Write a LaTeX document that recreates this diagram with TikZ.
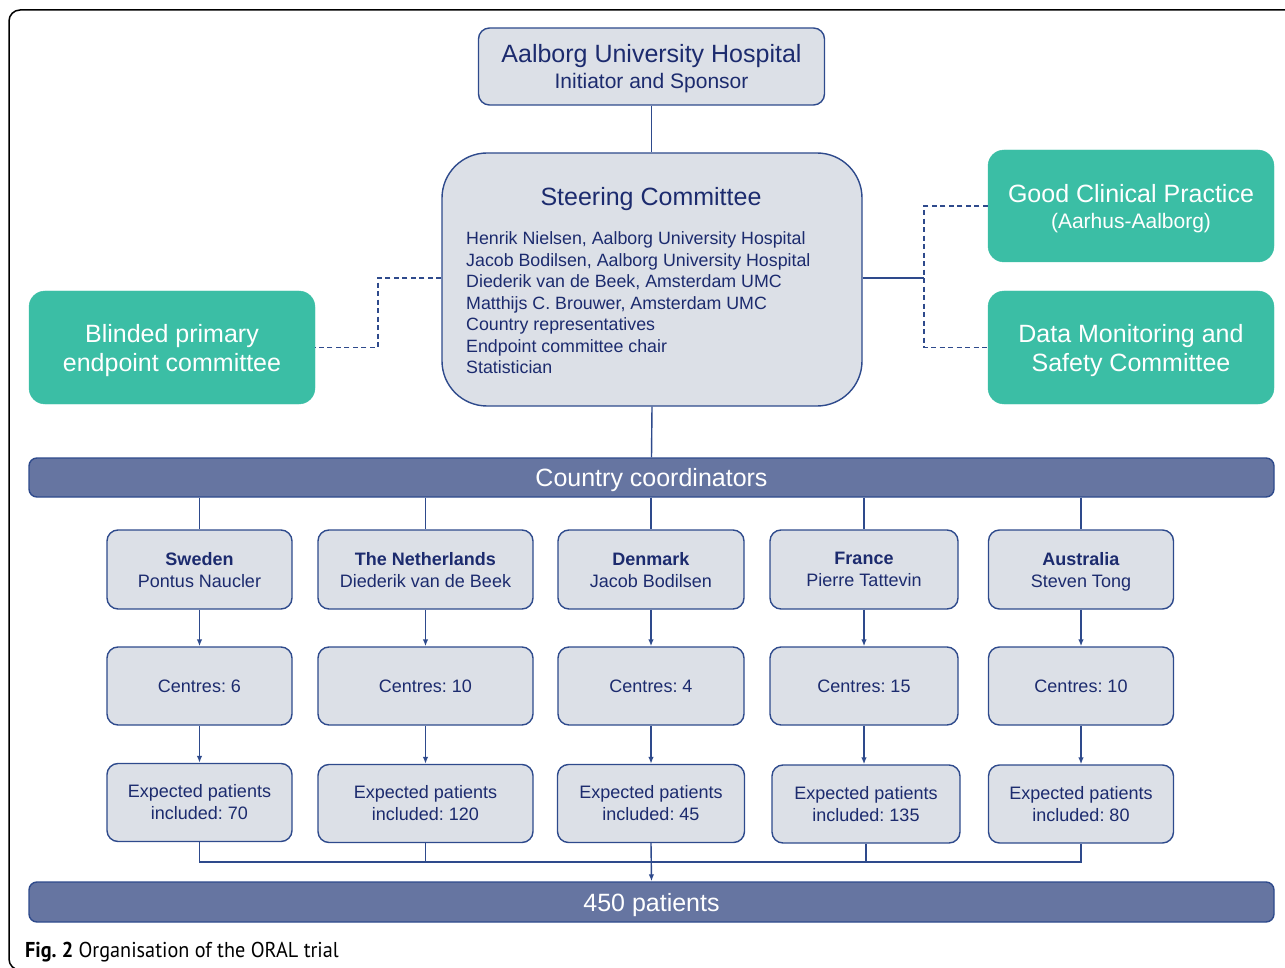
\documentclass[tikz,border=0pt]{standalone}
\usepackage{fontspec}
\setmainfont{Liberation Sans}
\newfontfamily\capfont[FakeStretch=0.94]{PT Sans}
\usetikzlibrary{arrows.meta}
\definecolor{navy}{HTML}{2E4A8C}
\definecolor{navytext}{HTML}{1C2B6E}
\definecolor{lightfill}{HTML}{DCE0E7}
\definecolor{tealbox}{HTML}{3BBEA5}
\definecolor{slatebar}{HTML}{6675A1}
\tikzset{
  gbox/.style={draw=navy, fill=lightfill, line width=1.4pt, rounded corners=11pt, text=navytext, align=center, inner sep=0pt},
  tbox/.style={fill=tealbox, draw=tealbox, rounded corners=16pt, text=white, align=center, inner sep=0pt,
     font=\fontsize{25}{29}\selectfont, text depth=0pt},
  barbox/.style={fill=slatebar, draw=navy, line width=1.4pt, rounded corners=8pt, text=white, inner sep=0pt,
     font=\fontsize{25}{29}\selectfont, minimum width=1245pt, text depth=0pt},
  conn/.style={draw=navy, line width=1.4pt},
  dconn/.style={conn, dash pattern=on 5pt off 3.5pt},
  arr/.style={conn, -{Latex[length=7pt,width=5.5pt]}},
  ctry/.style={gbox, minimum height=79pt, font=\fontsize{18}{22}\selectfont, text depth=0pt},
  cent/.style={gbox, minimum height=78pt, font=\fontsize{18}{22}\selectfont},
  expd/.style={gbox, minimum height=78pt, font=\fontsize{18}{22}\selectfont},
}
\begin{document}
\frenchspacing
\begin{tikzpicture}[x=1pt,y=-1pt]
\useasboundingbox (0,0) rectangle (1285,968);
\begin{scope}
\clip (0,0) rectangle (1285,968);
\draw[black, line width=1.5pt, rounded corners=11pt] (9,10) rectangle (1320,970);
\end{scope}

% top
\node[gbox, minimum width=346pt, minimum height=77pt, text depth=0pt] (aal) at (651.5,66.5)
  {{\fontsize{25}{28}\selectfont Aalborg University Hospital}\\[4pt]{\fontsize{21}{24}\selectfont Initiator and Sponsor}};
\node[gbox, rounded corners=45pt, minimum width=420pt, minimum height=253pt] (sc) at (652,279.5) {};
\node[text=navytext, font=\fontsize{25}{28}\selectfont, inner sep=0pt] (sct) at (651,199.5) {Steering Committee};
\node[text=navytext, font=\fontsize{17.8}{21.5}\selectfont, align=left, anchor=north west, inner sep=0pt] (scl) at (466,231.5)
  {Henrik Nielsen, Aalborg University Hospital\\
   Jacob Bodilsen, Aalborg University Hospital\\
   Diederik van de Beek, Amsterdam UMC\\
   Matthijs C. Brouwer, Amsterdam UMC\\
   Country representatives\\
   Endpoint committee chair\\
   Statistician};

\node[tbox, minimum width=286pt, minimum height=113pt] (bl) at (172,347.5) {Blinded primary\\endpoint committee};
\node[tbox, minimum width=286pt, minimum height=112pt] (gcp) at (1131,206)
  {Good Clinical Practice\\[-3pt]{\fontsize{21}{24}\selectfont (Aarhus-Aalborg)}};
\node[tbox, minimum width=286pt, minimum height=113pt] (dm) at (1131,347.5) {Data Monitoring and\\Safety Committee};

\node[barbox, minimum height=39pt] (cc) at (651.5,477.5) {Country coordinators};
\node[barbox, minimum height=40pt] (pt) at (651.5,902) {450 patients};

% columns
\node[ctry, minimum width=185pt] (sw1) at (199.5,569.5) {\textbf{Sweden}\\Pontus Naucler};
\node[ctry, minimum width=215pt] (nl1) at (425.5,569.5) {\textbf{The Netherlands}\\Diederik van de Beek};
\node[ctry, minimum width=186pt] (dk1) at (651,569.5) {\textbf{Denmark}\\Jacob Bodilsen};
\node[ctry, minimum width=188pt] (fr1) at (864,569.5) {\textbf{France}\\Pierre Tattevin};
\node[ctry, minimum width=185pt] (au1) at (1081,569.5) {\textbf{Australia}\\Steven Tong};

\node[cent, minimum width=185pt] (sw2) at (199.5,686) {Centres: 6};
\node[cent, minimum width=215pt] (nl2) at (425.5,686) {Centres: 10};
\node[cent, minimum width=186pt] (dk2) at (651,686) {Centres: 4};
\node[cent, minimum width=188pt] (fr2) at (864,686) {Centres: 15};
\node[cent, minimum width=185pt] (au2) at (1081,686) {Centres: 10};

\node[expd, minimum width=185pt] (sw3) at (199.5,802.5) {Expected patients\\included: 70};
\node[expd, minimum width=215pt] (nl3) at (425.5,803.5) {Expected patients\\included: 120};
\node[expd, minimum width=187pt] (dk3) at (651,803.5) {Expected patients\\included: 45};
\node[expd, minimum width=188pt] (fr3) at (866,804) {Expected patients\\included: 135};
\node[expd, minimum width=185pt] (au3) at (1081,804) {Expected patients\\included: 80};

% connectors
\draw[conn] (aal.south) -- (aal.south |- sc.north);
\draw[conn] (sc.south) -- (cc.north);
\coordinate (ldash) at (378,278);
\draw[dconn] (sc.west |- ldash) -- (ldash) -- (ldash |- bl.east) -- (bl.east);
\coordinate (rj) at (924,278);
\draw[conn] (sc.east |- rj) -- (rj);
\draw[dconn] (gcp.west) -- (rj |- gcp.west) -- (rj |- dm.west) -- (dm.west);

\foreach \c in {sw,nl,dk,fr,au}{
  \draw[conn] (\c1.north |- cc.south) -- (\c1.north);
  \draw[arr] (\c1.south) -- (\c2.north);
  \draw[arr] (\c2.south) -- (\c2.south |- \c3.north);
}
\coordinate (m) at (651,862);
\draw[conn] (sw3.south) -- (sw3.south |- m) -- (au3.south |- m) -- (au3.south);
\draw[conn] (nl3.south) -- (nl3.south |- m);
\draw[conn] (fr3.south) -- (fr3.south |- m);
\draw[arr] (dk3.south) -- (pt.north);

% caption
\node[anchor=base west, inner sep=0pt, font=\capfont\fontsize{21.5}{24}\selectfont] (cap) at (25,957)
  {\textbf{Fig. 2} Organisation of the ORAL trial};
\end{tikzpicture}
\end{document}
